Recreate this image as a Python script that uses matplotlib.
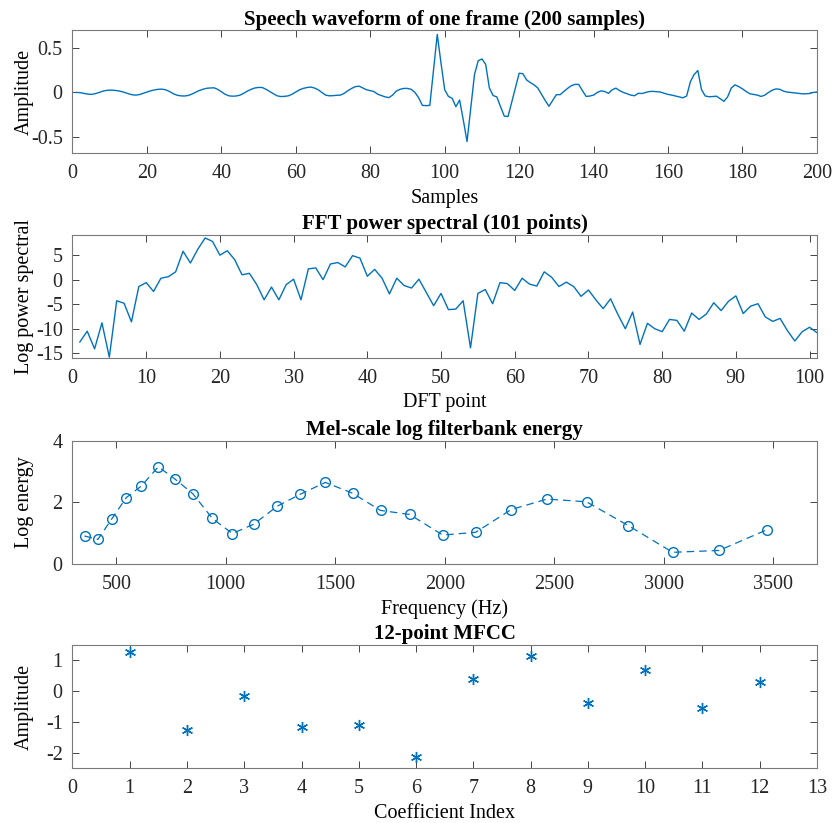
import numpy as np
import matplotlib
matplotlib.use("Agg")
import matplotlib.pyplot as plt

# ---- data -------------------------------------------------------------
frame = [
    0.000, -0.002, -0.010, -0.018, -0.022, -0.015, -0.003, 0.012, 0.022, 0.026,
    0.024, 0.020, 0.012, 0.000, -0.014, -0.026, -0.030, -0.024, -0.010, 0.005,
    0.018, 0.028, 0.035, 0.037, 0.030, 0.012, -0.012, -0.030, -0.038, -0.040,
    -0.035, -0.020, 0.000, 0.020, 0.035, 0.046, 0.050, 0.052, 0.035, 0.008,
    -0.020, -0.038, -0.042, -0.040, -0.030, -0.010, 0.015, 0.035, 0.050, 0.056,
    0.055, 0.035, 0.010, -0.015, -0.038, -0.046, -0.044, -0.038, -0.020, 0.005,
    0.030, 0.045, 0.055, 0.060, 0.050, 0.030, 0.000, -0.030, -0.038, -0.036,
    -0.032, -0.030, -0.010, 0.020, 0.045, 0.065, 0.070, 0.050, 0.030, 0.020,
    0.010, -0.020, -0.035, -0.050, -0.058, -0.030, 0.015, 0.035, 0.045, 0.045,
    0.035, 0.000, -0.060, -0.145, -0.148, -0.145, 0.250, 0.650, 0.330, 0.030,
    -0.045, -0.065, -0.160, -0.085, -0.310, -0.550, -0.180, 0.200, 0.355, 0.375,
    0.315, 0.050, -0.035, -0.050, -0.160, -0.265, -0.270, -0.110, 0.055, 0.215,
    0.210, 0.140, 0.110, 0.085, 0.050, -0.020, -0.090, -0.155, -0.090, -0.025,
    -0.025, 0.010, 0.045, 0.075, 0.090, 0.090, 0.020, -0.045, -0.040, -0.030,
    0.000, 0.018, 0.010, -0.010, 0.030, 0.048, 0.020, 0.000, -0.015, -0.030,
    -0.037, -0.010, -0.012, 0.000, 0.010, 0.012, 0.008, 0.004, -0.010, -0.022,
    -0.030, -0.040, -0.050, -0.060, -0.040, 0.120, 0.200, 0.246, 0.030, -0.040,
    -0.048, -0.046, -0.042, -0.070, -0.100, -0.050, 0.050, 0.085, 0.065, 0.040,
    0.010, -0.015, -0.022, -0.030, -0.045, -0.030, 0.000, 0.025, 0.040, 0.035,
    0.015, 0.004, 0.000, -0.005, -0.010, -0.015, -0.015, -0.012, 0.000, 0.004,
]

log_power = [
    -12.7, -10.5, -14.1, -8.8, -15.8, -4.3, -4.8, -8.6, -1.4, -0.6,
    -2.4, 0.3, 0.6, 1.6, 5.8, 3.4, 6.2, 8.5, 7.8, 5.0,
    5.9, 4.1, 1.0, 1.3, -1.0, -4.1, -1.5, -4.1, -1.0, 0.1,
    -4.1, 2.2, 2.4, 0.0, 3.2, 3.5, 2.6, 4.9, 4.4, 0.7,
    2.1, 0.3, -2.9, 0.3, -1.2, -1.7, 0.1, -2.6, -5.3, -2.8,
    -6.1, -6.0, -4.3, -13.9, -2.8, -2.0, -4.9, -0.6, -0.8, -2.2,
    0.3, -0.9, -1.3, 1.6, 0.5, -1.4, -0.5, -1.4, -3.4, -2.1,
    -4.1, -5.9, -3.9, -7.1, -10.0, -6.6, -13.2, -8.9, -10.0, -10.6,
    -8.1, -8.3, -10.5, -6.8, -8.1, -7.0, -4.7, -6.3, -4.4, -3.3,
    -6.9, -5.4, -4.9, -7.6, -8.5, -7.9, -10.4, -12.5, -10.6, -9.7,
    -10.8,
]

mel_freq = [355, 416, 480, 546, 614, 692, 768, 850, 939, 1030,
            1127, 1236, 1341, 1455, 1579, 1707, 1840, 1991, 2141, 2304,
            2468, 2648, 2838, 3041, 3253, 3474]
mel_energy = [0.91, 0.80, 1.47, 2.16, 2.53, 3.16, 2.76, 2.28, 1.48, 0.99,
              1.29, 1.88, 2.27, 2.65, 2.30, 1.74, 1.61, 0.94, 1.03, 1.77,
              2.11, 2.02, 1.25, 0.38, 0.44, 1.12]

mfcc_index = list(range(1, 13))
mfcc = [1.26, -1.27, -0.16, -1.17, -1.11, -2.14, 0.39, 1.15, -0.40, 0.68, -0.56, 0.31]

titles = ["Speech waveform of one frame (200 samples)",
          "FFT power spectral (101 points)",
          "Mel-scale log filterbank energy",
          "12-point MFCC"]
xlabels = ["Samples", "DFT point", "Frequency (Hz)", "Coefficient Index"]
ylabels = ["Amplitude", "Log power spectral", "Log energy", "Amplitude"]

# ---- style ------------------------------------------------------------
plt.rcParams["font.family"] = ["Liberation Serif", "DejaVu Serif"]
plt.rcParams["font.size"] = 14.5
plt.rcParams["axes.unicode_minus"] = False

BLUE = "#0072BD"
AX_COLOR = "#262626"

fig = plt.figure(figsize=(8.32, 8.23), dpi=100)
left, width = 0.0871, 0.8948
bottoms = [0.8137, 0.5654, 0.3147, 0.0668]
height = 0.1496
axes = [fig.add_axes([left, b, width, height]) for b in bottoms]


def style(ax, title, xl, yl):
    ax.set_title(title, fontweight="bold", fontsize=15, pad=4)
    ax.set_xlabel(xl, labelpad=4)
    ax.set_ylabel(yl)
    ax.yaxis.set_label_coords(-0.052, 0.5)
    ax.tick_params(direction="in", top=True, right=True, length=5,
                   width=0.6, color=AX_COLOR, labelcolor=AX_COLOR)
    ax.tick_params(axis="x", pad=8)
    ax.tick_params(axis="y", pad=7)
    for s in ax.spines.values():
        s.set_color("#7a7a7a")
        s.set_linewidth(0.8)


# waveform
ax = axes[0]
ax.plot(np.arange(1, len(frame) + 1), frame, color=BLUE, lw=1.0)
ax.set_xlim(0, 200)
ax.set_ylim(-0.682, 0.697)
ax.set_xticks(np.arange(0, 201, 20))
ax.set_yticks([-0.5, 0, 0.5])
ax.set_yticklabels(["-0.5", "0", "0.5"])
style(ax, titles[0], xlabels[0], ylabels[0])

# power spectrum
ax = axes[1]
ax.plot(np.arange(1, len(log_power) + 1), log_power, color=BLUE, lw=1.0)
ax.set_xlim(0, 101)
ax.set_ylim(-15.9, 9.2)
ax.set_xticks(np.arange(0, 101, 10))
ax.set_yticks([-15, -10, -5, 0, 5])
style(ax, titles[1], xlabels[1], ylabels[1])

# mel filterbank energies
ax = axes[2]
ax.plot(mel_freq, mel_energy, color=BLUE, lw=0.9, ls=(0, (6, 4)),
        marker="o", ms=7, mfc="none", mec=BLUE, mew=1.0)
ax.set_xlim(300, 3700)
ax.set_ylim(0, 4)
ax.set_xticks(np.arange(500, 3501, 500))
ax.set_yticks([0, 2, 4])
style(ax, titles[2], xlabels[2], ylabels[2])

# MFCC
ax = axes[3]
ax.plot(mfcc_index, mfcc, ls="none", marker=(6, 2, 0), ms=8, mec=BLUE,
        mew=1.0, color=BLUE)
ax.set_xlim(0, 13)
ax.set_ylim(-2.5, 1.5)
ax.set_xticks(np.arange(0, 14, 1))
ax.set_yticks([-2, -1, 0, 1])
style(ax, titles[3], xlabels[3], ylabels[3])

fig.savefig("out.png", dpi=100)
